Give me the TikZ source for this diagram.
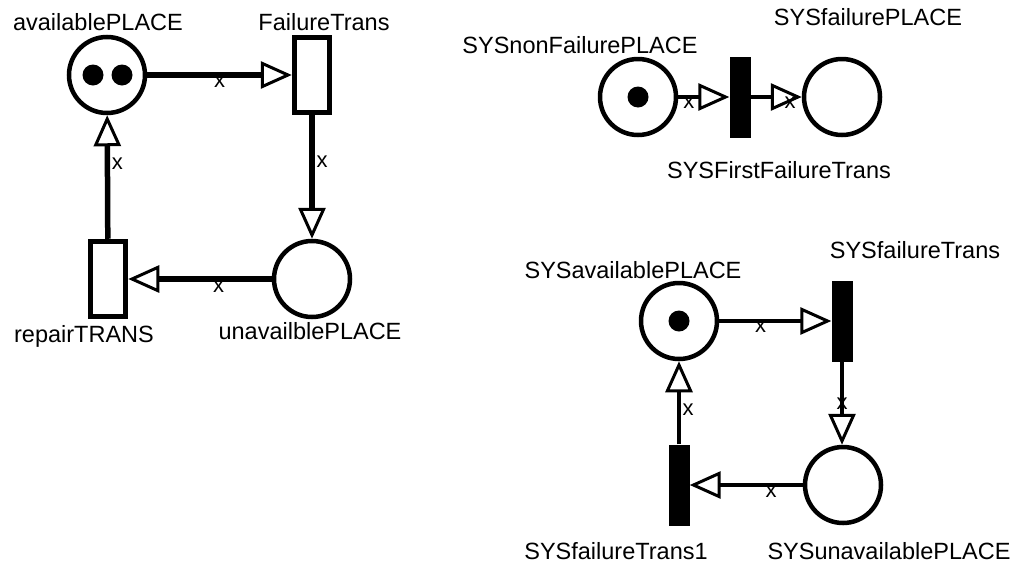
\documentclass[tikz,border=0pt]{standalone}
\usepackage{fontspec}
\setmainfont{Liberation Sans}
\usetikzlibrary{arrows.meta}
\begin{document}
\begin{tikzpicture}[x=1pt, y=-1pt,
    place/.style={draw, circle, line width=4.5pt, minimum size=76pt, inner sep=0pt},
    trans/.style={draw, rectangle, line width=5.5pt, minimum width=35pt, minimum height=75pt, inner sep=0pt},
    blacktrans/.style={fill, rectangle, minimum width=21pt, minimum height=81pt, inner sep=0pt},
    token/.style={fill, circle, minimum size=21pt, inner sep=0pt},
    lbl/.style={font=\fontsize{23.5}{26}\selectfont, inner sep=0pt},
    arclbl/.style={font=\fontsize{22}{23}\selectfont, inner sep=0pt},
    arc/.style={line width=4.5pt, -{Triangle[open, length=31pt, width=27pt, line width=3pt]}},
    thickarc/.style={arc, line width=5.5pt},
  ]
    \useasboundingbox (0,0) rectangle (1019,568);

    % availability net
    \node[place] (avail) at (107,75) {};
    \node[token] (availTokA) at (93,75) {};
    \node[token] (availTokB) at (122,75) {};
    \node[trans] (failTrans) at (312,75) {};
    \node[place] (unavail) at (312,279) {};
    \node[trans] (repair) at (108,279) {};
    \node[lbl] (availLbl) at (98,22) {availablePLACE};
    \node[lbl] (failTransLbl) at (324,22) {FailureTrans};
    \node[lbl] (unavailLbl) at (310,331) {unavailblePLACE};
    \node[lbl] (repairLbl) at (84,336) {repairTRANS};

    \draw[thickarc] (avail) -- (failTrans) node[arclbl, pos=.5, yshift=-7pt] (aA) {x};
    \draw[thickarc] (failTrans) -- (unavail) node[arclbl, pos=.38, xshift=10pt] (aB) {x};
    \draw[thickarc] (unavail) -- (repair) node[arclbl, pos=.37, yshift=-8pt] (aC) {x};
    \draw[thickarc] (repair) -- (avail) node[arclbl, pos=.61, xshift=10pt] (aD) {x};

    % first failure net
    \node[place] (sysNonFail) at (638,97) {};
    \node[token] (sysNonFailTok) at (638,97) {};
    \node[blacktrans] (sysFirstFail) at (740,97) {};
    \node[place] (sysFail) at (842,97) {};
    \node[lbl] (sysNonFailLbl) at (580,45) {SYSnonFailurePLACE};
    \node[lbl] (sysFailLbl) at (868,17) {SYSfailurePLACE};
    \node[lbl] (sysFirstFailLbl) at (779,170) {SYSFirstFailureTrans};

    \draw[arc] (sysNonFail) -- (sysFirstFail) node[arclbl, pos=.21, yshift=-6pt] (aE) {x};
    \draw[arc] (sysFirstFail) -- (sysFail) node[arclbl, pos=.77, yshift=-6pt] (aF) {x};

    % system availability net
    \node[place] (sysAvail) at (679,321) {};
    \node[token] (sysAvailTok) at (679,321) {};
    \node[blacktrans] (sysFailTrans) at (842,321) {};
    \node[place] (sysUnavail) at (843,485) {};
    \node[blacktrans] (sysFailTransA) at (679,485) {};
    \node[lbl] (sysAvailLbl) at (633,270) {SYSavailablePLACE};
    \node[lbl] (sysFailTransLbl) at (915,250) {SYSfailureTrans};
    \node[lbl] (sysUnavailLbl) at (889,551) {SYSunavailablePLACE};
    \node[lbl] (sysFailTransALbl) at (616,551) {SYSfailureTrans1};

    \draw[arc] (sysAvail) -- (sysFailTrans) node[arclbl, pos=.37, yshift=-6pt] (aG) {x};
    \draw[arc] (sysFailTrans) -- (sysFailTrans |- sysUnavail.north) node[arclbl, pos=.5] (aH) {x};
    \draw[arc] (sysUnavail) -- (sysFailTransA) node[arclbl, pos=.28, yshift=-7pt] (aI) {x};
    \draw[arc] (sysFailTransA) -- (sysAvail) node[arclbl, pos=.42, xshift=9pt] (aJ) {x};
\end{tikzpicture}
\end{document}
